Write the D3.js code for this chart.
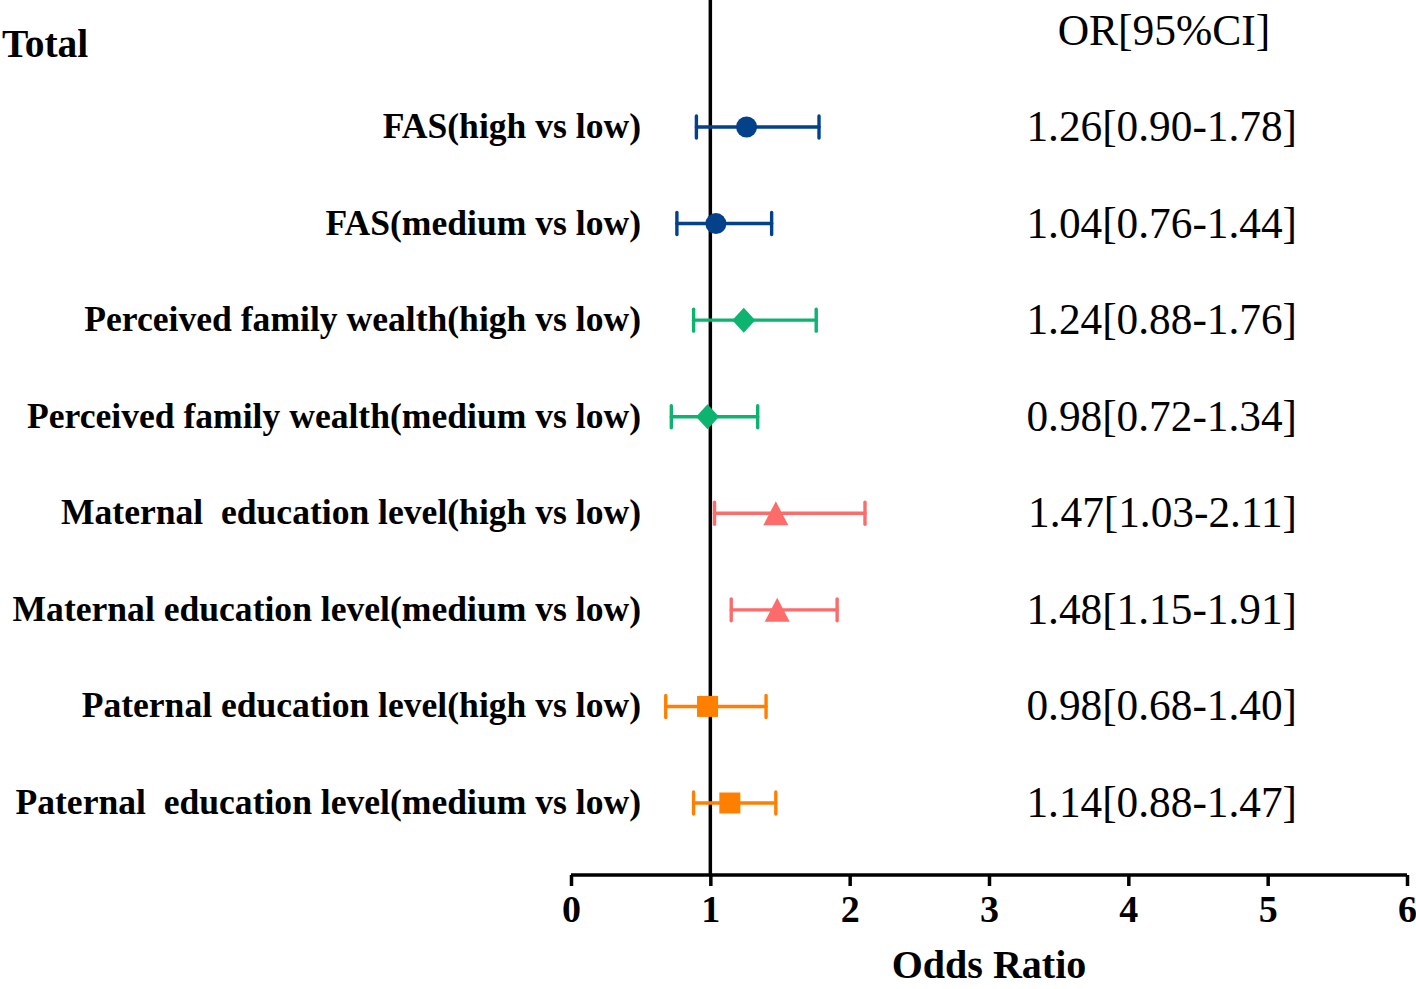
<!DOCTYPE html>
<html>
<head>
<meta charset="utf-8">
<script src="https://cdn.jsdelivr.net/npm/d3@7"></script>
<style>
  html, body { margin: 0; padding: 0; background: #fff; }
  svg { display: block; }
  text { font-family: "Liberation Serif", "Times New Roman", serif; fill: #000; white-space: pre; }
</style>
</head>
<body>
<svg id="chart" width="1416" height="989"></svg>
<script>
const labels = [
  "FAS(high vs low)",
  "FAS(medium vs low)",
  "Perceived family wealth(high vs low)",
  "Perceived family wealth(medium vs low)",
  "Maternal  education level(high vs low)",
  "Maternal education level(medium vs low)",
  "Paternal education level(high vs low)",
  "Paternal  education level(medium vs low)"
];
const orValues = [1.26, 1.04, 1.24, 0.98, 1.47, 1.48, 0.98, 1.14];
const ciLow    = [0.90, 0.76, 0.88, 0.72, 1.03, 1.15, 0.68, 0.88];
const ciHigh   = [1.78, 1.44, 1.76, 1.34, 2.11, 1.91, 1.40, 1.47];
const groups   = ["fas", "fas", "wealth", "wealth", "maternal", "maternal", "paternal", "paternal"];
const groupNames  = ["fas", "wealth", "maternal", "paternal"];
const groupColors = ["#03418a", "#0cb46f", "#fd6b6b", "#ff8000"];
const groupShapes = ["circle", "diamond", "triangle", "square"];
const xTicks = [0, 1, 2, 3, 4, 5, 6];
const refValue = 1;

const fmt = d3.format(".2f");
const rows = labels.map((l, i) => ({
  label: l, or: orValues[i], lo: ciLow[i], hi: ciHigh[i], group: groups[i],
  text: fmt(orValues[i]) + "[" + fmt(ciLow[i]) + "-" + fmt(ciHigh[i]) + "]"
}));

const svg = d3.select("#chart");
const x = d3.scaleLinear().domain([0, 6]).range([571, 1407]);
const y = d3.scalePoint().domain(labels).range([127, 803]);
const color = d3.scaleOrdinal().domain(groupNames).range(groupColors);
const shape = d3.scaleOrdinal().domain(groupNames).range(groupShapes);
const axisY = 875;

// reference line
svg.append("line")
  .attr("x1", x(refValue)).attr("x2", x(refValue))
  .attr("y1", 0).attr("y2", axisY)
  .attr("stroke", "#000").attr("stroke-width", 3.5);

// x axis
const axis = d3.axisBottom(x).tickValues(xTicks).tickSize(11).tickPadding(9).tickFormat(d3.format("d"));
const gx = svg.append("g").attr("transform", `translate(0,${axisY})`).call(axis);
gx.select(".domain").attr("stroke", "#000").attr("stroke-width", 3.5)
  .attr("d", `M${x(0)},0H${x(6)}`);
gx.selectAll(".tick line").attr("stroke", "#000").attr("stroke-width", 3.5);
gx.selectAll(".tick text")
  .style("font-family", "'Liberation Serif', serif")
  .style("font-weight", "bold").style("font-size", "38px").attr("fill", "#000");

svg.append("text")
  .attr("x", x(3)).attr("y", 978)
  .attr("text-anchor", "middle")
  .style("font-weight", "bold").style("font-size", "40px")
  .text("Odds Ratio");

// title texts
svg.append("text").attr("x", 2).attr("y", 57)
  .style("font-weight", "bold").style("font-size", "39.5px").text("Total");
svg.append("text").attr("x", 1164).attr("y", 45).attr("text-anchor", "middle")
  .style("font-size", "43.5px").text("OR[95%CI]");

// row labels
svg.append("g").selectAll("text").data(rows).join("text")
  .attr("x", 641).attr("y", d => y(d.label) + 11)
  .attr("text-anchor", "end")
  .style("font-weight", "bold").style("font-size", "35.6px")
  .text(d => d.label);

// OR text
svg.append("g").selectAll("text").data(rows).join("text")
  .attr("x", 1297).attr("y", d => y(d.label) + 14)
  .attr("text-anchor", "end")
  .style("font-size", "43.3px")
  .text(d => d.text);

// error bars
const eb = svg.append("g").selectAll("g").data(rows).join("g")
  .attr("stroke", d => color(d.group)).attr("stroke-width", 3.4)
  .attr("stroke-linecap", "round").attr("fill", "none");
eb.append("line")
  .attr("x1", d => x(d.lo)).attr("x2", d => x(d.hi))
  .attr("y1", d => y(d.label)).attr("y2", d => y(d.label));
eb.append("line")
  .attr("x1", d => x(d.lo)).attr("x2", d => x(d.lo))
  .attr("y1", d => y(d.label) - 11).attr("y2", d => y(d.label) + 11);
eb.append("line")
  .attr("x1", d => x(d.hi)).attr("x2", d => x(d.hi))
  .attr("y1", d => y(d.label) - 11).attr("y2", d => y(d.label) + 11);

// markers
function markerPath(s) {
  switch (s) {
    case "circle": return "M-10.5,0A10.5,10.5 0 1,0 10.5,0A10.5,10.5 0 1,0 -10.5,0Z";
    case "diamond": return "M0,-12.5L11.5,0L0,12.5L-11.5,0Z";
    case "triangle": return "M0,-12L12.5,12L-12.5,12Z";
    case "square": return "M-10.5,-10.5H10.5V10.5H-10.5Z";
  }
}
svg.append("g").selectAll("path").data(rows).join("path")
  .attr("transform", d => `translate(${x(d.or)},${y(d.label)})`)
  .attr("d", d => markerPath(shape(d.group)))
  .attr("fill", d => color(d.group));
</script>
</body>
</html>
